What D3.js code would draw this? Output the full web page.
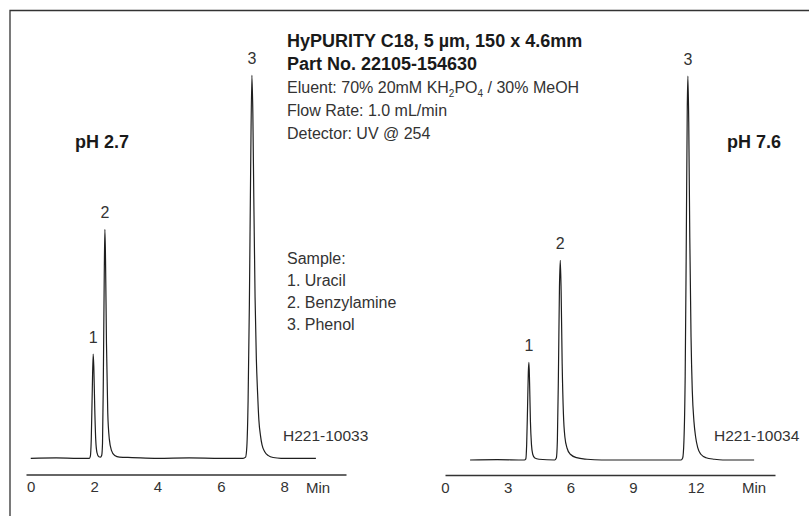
<!DOCTYPE html>
<html lang="en">
<head>
  <meta charset="utf-8">
  <title>HyPURITY C18 - pH 2.7 / pH 7.6</title>
  <script src="https://d3js.org/d3.v7.min.js"></script>
  <style>
    body { margin: 0; background: #fff; }
    text { font-family: "Liberation Sans", Arial, sans-serif; fill: #333; }
    .bold { font-weight: bold; fill: #1a1a1a; }
  </style>
</head>
<body>
<script>
// traces: [minutes, signal], tallest peak = 100
var leftTrace = [
  [0, 0], [0.8, 0.1], [1.5, 0], [1.85, 0],
  [1.88, 0.5], [1.91, 5], [1.94, 17], [1.97, 27.2], [1.99, 24], [2.02, 13], [2.05, 5], [2.09, 1.5], [2.15, 0.4], [2.2, 0.3],
  [2.24, 0.8], [2.265, 4], [2.29, 20], [2.32, 48], [2.34, 59.8], [2.36, 52], [2.39, 30], [2.43, 12], [2.48, 5], [2.55, 2], [2.65, 0.7], [2.8, 0.3],
  [3.2, 0.2], [4, 0], [5, 0.1], [6, 0], [6.7, 0],
  [6.78, 0.3], [6.82, 3], [6.86, 15], [6.9, 40], [6.94, 75], [6.98, 100], [7.01, 90], [7.04, 68], [7.08, 42], [7.12, 26], [7.16, 17],
  [7.2, 10], [7.25, 6], [7.3, 3.5], [7.38, 1.8], [7.5, 0.7], [7.65, 0.2], [7.9, 0], [8.4, 0], [9.0, 0]
];
var rightTrace = [
  [1.2, 0], [2.5, 0.1], [3.8, 0],
  [3.87, 0.3], [3.91, 4], [3.95, 13], [3.99, 23], [4.02, 25.4], [4.05, 20], [4.09, 10], [4.14, 4], [4.2, 1.5], [4.3, 0.5], [4.5, 0.2],
  [5.25, 0], [5.33, 0.5], [5.38, 5], [5.43, 22], [5.48, 45], [5.52, 52], [5.56, 44], [5.61, 25], [5.67, 12], [5.74, 6], [5.85, 3],
  [6.0, 1.5], [6.3, 0.6], [6.8, 0.2], [7.5, 0], [9, 0], [11.3, 0],
  [11.38, 0.5], [11.44, 5], [11.5, 22], [11.55, 55], [11.6, 92], [11.63, 100], [11.67, 88], [11.72, 58], [11.78, 32], [11.84, 18],
  [11.92, 10], [12.0, 6], [12.1, 3.2], [12.25, 1.5], [12.5, 0.6], [12.9, 0.2], [13.3, 0], [14.0, 0], [14.8, 0]
];

var peakNames = ['1', '2', '3'];
var leftPeakTimes = [1.97, 2.34, 6.98];
var leftPeakHeights = [27.2, 59.8, 100];
var rightPeakTimes = [4.02, 5.52, 11.63];
var rightPeakHeights = [25.4, 52, 100];

var leftTicks = [0, 2, 4, 6, 8];
var rightTicks = [0, 3, 6, 9, 12];

var headerBold = ['HyPURITY C18, 5 µm, 150 x 4.6mm', 'Part No. 22105-154630'];
// eluent line has subscripts, so keep it in pieces: [text, isSub]
var eluentParts = [['Eluent: 70% 20mM KH', false], ['2', true], ['PO', false], ['4', true], [' / 30% MeOH', false]];
var headerPlain = ['Flow Rate: 1.0 mL/min', 'Detector: UV @ 254'];
var sampleLines = ['Sample:', '1. Uracil', '2. Benzylamine', '3. Phenol'];

var w = 809;
var h = 516;

var svg = d3.select('body')
  .append('svg')
  .attr('width', w)
  .attr('height', h);

// frame, only top and left edge show in the picture
svg.append('path')
  .attr('d', 'M10,' + h + 'V10.5H' + w)
  .attr('fill', 'none')
  .attr('stroke', '#333')
  .attr('stroke-width', 1.3);

// one chromatogram
function drawPanel(p) {
  var x = d3.scaleLinear().domain(p.xDomain).range(p.xRange);
  var y = d3.scaleLinear().domain([0, 100]).range(p.yRange);

  var line = d3.line()
    .x(function (d) { return x(d[0]); })
    .y(function (d) { return y(d[1]); })
    .curve(d3.curveMonotoneX);

  svg.append('path')
    .datum(p.trace)
    .attr('d', line)
    .attr('fill', 'none')
    .attr('stroke', '#1e1e1e')
    .attr('stroke-width', 1.2);

  var axis = svg.append('g')
    .attr('transform', 'translate(0,' + p.axisY + ')')
    .call(d3.axisBottom(x).tickValues(p.ticks).tickSize(0).tickPadding(7));
  axis.select('.domain').attr('stroke', '#333').attr('stroke-width', 1.5);
  axis.selectAll('text')
    .attr('font-family', '"Liberation Sans", Arial, sans-serif')
    .attr('font-size', 15)
    .attr('fill', '#333');

  svg.append('text')
    .attr('x', x(p.minAt))
    .attr('y', p.axisY + 18)
    .attr('text-anchor', 'middle')
    .attr('font-size', 15)
    .text('Min');

  // peak numbers
  svg.selectAll(null)
    .data(peakNames)
    .enter()
    .append('text')
    .attr('x', function (d, i) { return x(p.peakTimes[i]); })
    .attr('y', function (d, i) { return y(p.peakHeights[i]) - 11; })
    .attr('text-anchor', 'middle')
    .attr('font-size', 16)
    .text(function (d) { return d; });

  svg.append('text')
    .attr('x', p.idX)
    .attr('y', 441)
    .attr('font-size', 15.5)
    .text(p.id);

  svg.append('text')
    .attr('class', 'bold')
    .attr('x', p.phX)
    .attr('y', 148)
    .attr('font-size', 18)
    .text(p.ph);
}

drawPanel({
  trace: leftTrace, peakTimes: leftPeakTimes, peakHeights: leftPeakHeights, ticks: leftTicks,
  xDomain: [-0.15, 9.95], xRange: [26, 346], yRange: [458.3, 75.3], axisY: 474.5,
  minAt: 9.07, id: 'H221-10033', idX: 283, ph: 'pH 2.7', phX: 75
});
drawPanel({
  trace: rightTrace, peakTimes: rightPeakTimes, peakHeights: rightPeakHeights, ticks: rightTicks,
  xDomain: [0, 15.8], xRange: [445, 775], yRange: [460, 76], axisY: 475,
  minAt: 14.8, id: 'H221-10034', idX: 714, ph: 'pH 7.6', phX: 727
});

// column info block
var info = svg.append('g').attr('transform', 'translate(287,0)');

info.selectAll('.hb')
  .data(headerBold)
  .enter()
  .append('text')
  .attr('class', 'bold')
  .attr('y', function (d, i) { return 47 + i * 23; })
  .attr('font-size', 18)
  .text(function (d) { return d; });

var eluent = info.append('text')
  .attr('y', 93)
  .attr('font-size', 16);
eluentParts.forEach(function (part, i) {
  var prev = i > 0 && eluentParts[i - 1][1];
  eluent.append('tspan')
    .attr('dy', part[1] ? 4 : (prev ? -4 : 0))
    .attr('font-size', part[1] ? 10 : 16)
    .text(part[0]);
});

info.selectAll('.hp')
  .data(headerPlain)
  .enter()
  .append('text')
  .attr('y', function (d, i) { return 116 + i * 23; })
  .attr('font-size', 16)
  .text(function (d) { return d; });

info.selectAll('.smp')
  .data(sampleLines)
  .enter()
  .append('text')
  .attr('y', function (d, i) { return 264 + i * 22; })
  .attr('font-size', 16)
  .text(function (d) { return d; });
</script>
</body>
</html>
